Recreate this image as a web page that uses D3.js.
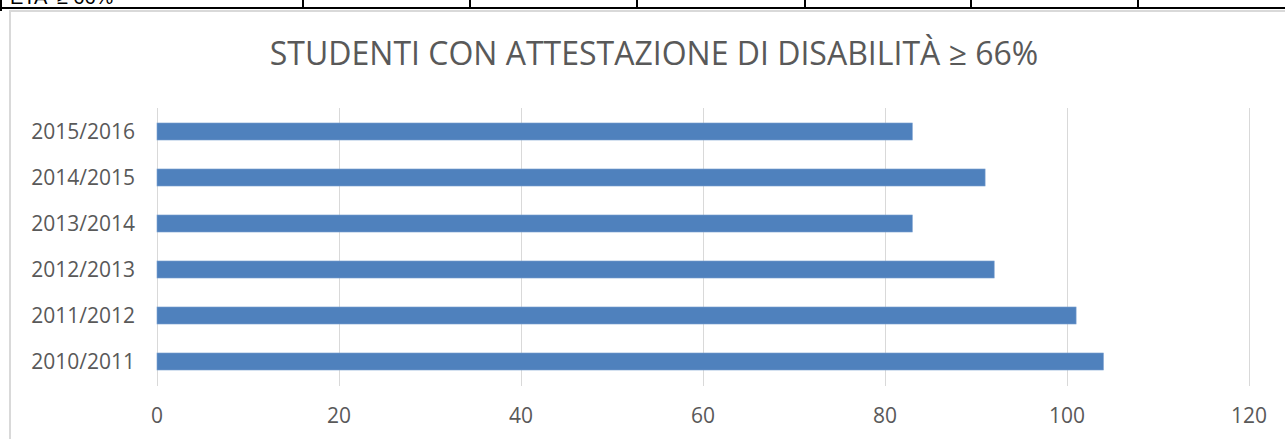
<!DOCTYPE html>
<html>
<head>
<meta charset="utf-8">
<script src="https://cdn.jsdelivr.net/npm/d3@7"></script>
<style>
  body { margin: 0; background: #fff; overflow: hidden; }
  svg { display: block; font-family: "Open Sans", sans-serif; }
</style>
</head>
<body>
<div id="chart"></div>
<script>
// data
const anni = ["2010/2011", "2011/2012", "2012/2013", "2013/2014", "2014/2015", "2015/2016"];
const studenti = [104, 101, 92, 83, 91, 83];
const xTicks = [0, 20, 40, 60, 80, 100, 120];
const titolo = "STUDENTI CON ATTESTAZIONE DI DISABILITÀ ≥ 66%";
const tableCols = [303, 470, 637, 805, 971, 1138];

const W = 1285, H = 439;
const plot = { left: 157, right: 1249, top: 108, bottom: 384 };

const svg = d3.select("#chart")
    .append("svg")
    .attr("width", W)
    .attr("height", H);

// pezzo della tabella sopra il grafico (tagliato come nell'originale)
svg.append("text")
    .attr("x", 10)
    .attr("y", 4)
    .style("font-family", "Liberation Sans, Arial, sans-serif")
    .style("font-size", "20px")
    .attr("fill", "#000")
    .text("ETA' ≥ 66%");

svg.append("line")
    .attr("x1", 0).attr("x2", W)
    .attr("y1", 8).attr("y2", 8)
    .attr("stroke", "#000").attr("stroke-width", 2);

svg.append("line")
    .attr("x1", 1).attr("x2", 1)
    .attr("y1", 0).attr("y2", 11)
    .attr("stroke", "#000").attr("stroke-width", 2);

svg.selectAll(".tcol")
    .data(tableCols)
    .enter().append("line")
    .attr("class", "tcol")
    .attr("x1", d => d).attr("x2", d => d)
    .attr("y1", 0).attr("y2", 8)
    .attr("stroke", "#000").attr("stroke-width", 2);

// bordo dell'area del grafico
svg.append("rect")
    .attr("x", 10)
    .attr("y", 11)
    .attr("width", W + 20)
    .attr("height", H + 20)
    .attr("fill", "#fff")
    .attr("stroke", "#d9d9d9")
    .attr("stroke-width", 2);

// title
svg.append("text")
    .attr("x", 654)
    .attr("y", 65)
    .attr("text-anchor", "middle")
    .style("font-size", "32px")
    .attr("fill", "#595959")
    .text(titolo);

// scales
const x = d3.scaleLinear()
    .domain([0, 120])
    .range([plot.left, plot.right]);

const y = d3.scaleBand()
    .domain(anni.slice().reverse())
    .range([plot.top + 0.5, plot.bottom + 0.5])
    .paddingInner(0.63)
    .paddingOuter(0.315);

// gridlines
svg.selectAll(".grid")
    .data(xTicks)
    .enter().append("line")
    .attr("class", "grid")
    .attr("x1", d => Math.round(x(d)) + 0.5)
    .attr("x2", d => Math.round(x(d)) + 0.5)
    .attr("y1", plot.top)
    .attr("y2", plot.bottom + 2)
    .attr("stroke", "#d9d9d9")
    .attr("stroke-width", 1);

// x labels
svg.selectAll(".xlab")
    .data(xTicks)
    .enter().append("text")
    .attr("class", "xlab")
    .attr("x", d => x(d))
    .attr("y", 423)
    .attr("text-anchor", "middle")
    .style("font-size", "21px")
    .attr("fill", "#595959")
    .text(d => d);

// y labels
svg.selectAll(".ylab")
    .data(anni)
    .enter().append("text")
    .attr("class", "ylab")
    .attr("x", 135)
    .attr("y", d => y(d) + y.bandwidth() / 2)
    .attr("dy", "0.36em")
    .attr("text-anchor", "end")
    .style("font-size", "21px")
    .attr("fill", "#595959")
    .text(d => d);

// bars
svg.selectAll(".bar")
    .data(anni.map((a, i) => ({ anno: a, v: studenti[i] })))
    .enter().append("rect")
    .attr("class", "bar")
    .attr("x", x(0))
    .attr("y", d => y(d.anno))
    .attr("width", d => x(d.v) - x(0))
    .attr("height", y.bandwidth())
    .attr("fill", "#4f81bd")
    .attr("stroke", "#7aa0d0")
    .attr("stroke-width", 0.6);
</script>
</body>
</html>
